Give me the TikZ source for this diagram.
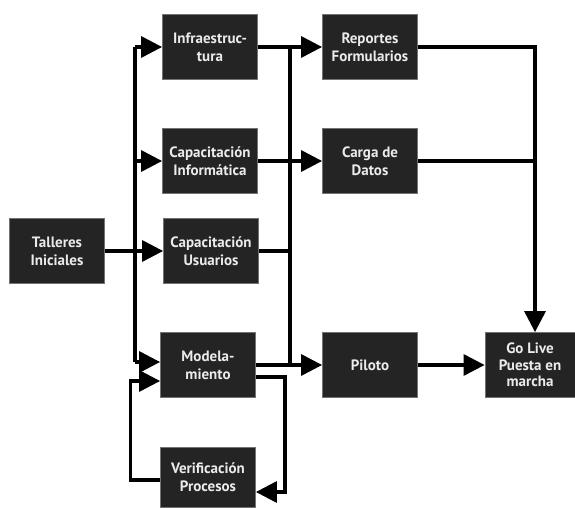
\documentclass[tikz,border=0pt]{standalone}
\usepackage{fontspec}
\setmainfont{PT Sans}
\usetikzlibrary{arrows.meta}
\begin{document}
\begin{tikzpicture}[x=1pt,y=-1pt,
  box/.style={rectangle,fill=black!86,draw=black!55,line width=0.8pt,
    text=black!8,font=\bfseries\fontsize{15}{18}\selectfont,align=center,
    minimum width=95pt,minimum height=65pt,inner sep=1pt},
  wire/.style={line width=3.2pt,black},
  arr/.style={wire,-{Triangle[length=21pt,width=21pt]}}]
\useasboundingbox (0,0) rectangle (575,508);

% process boxes
\node[box] (tal)   at (57,251)  {Talleres\\Iniciales};
\node[box] (infra) at (210,47)  {Infraestruc-\\tura};
\node[box] (capi)  at (210,161) {Capacitación\\Informática};
\node[box] (capu)  at (211,251) {Capacitación\\Usuarios};
\node[box] (mod)   at (208,365) {Modela-\\miento};
\node[box,minimum height=60pt] (ver) at (208,477) {Verificación\\Procesos};
\node[box] (rep)   at (370,47)  {Reportes\\Formularios};
\node[box] (carga) at (370,161) {Carga de\\Datos};
\node[box] (pil)   at (370,365) {Piloto};
\node[box,minimum width=90pt,font=\bfseries\fontsize{15}{16.5}\selectfont] (gl) at (530,365) {Go Live\\Puesta en\\marcha};

% left distribution bus
\coordinate (lbt) at (135,47);
\coordinate (lbb) at (135,362);
\draw[wire] (lbt) -- (lbb);
\draw[arr] (tal) -- (capu);
\draw[arr] (lbt) -- (infra);
\draw[arr] (lbt |- capi) -- (capi);
\draw[arr] (lbb) -- ([yshift=3pt]mod.west);

% verification loop
\draw[arr] ([yshift=-3pt]ver.west) -- ++(-30,0) |- ([yshift=-16pt]mod.west);
\draw[arr] ([yshift=-12pt]mod.east) -- (285,377) |- ([yshift=-15pt]ver.east);

% right collection bus
\coordinate (rbt) at (290,47);
\coordinate (rbb) at (290,365);
\draw[wire] (rbt) -- (rbb);
\draw[arr] (infra) -- (rep);
\draw[arr] (capi) -- (carga);
\draw[wire] (capu) -- (capu -| rbt);
\draw[arr] (mod) -- (pil);

% into go live
\coordinate (gt) at ([xshift=5pt]gl.north);
\draw[arr] (rep.east) -| (gt);
\draw[wire] (carga.east) -- (carga.east -| gt);
\draw[arr] (pil) -- (gl);
\end{tikzpicture}
\end{document}
